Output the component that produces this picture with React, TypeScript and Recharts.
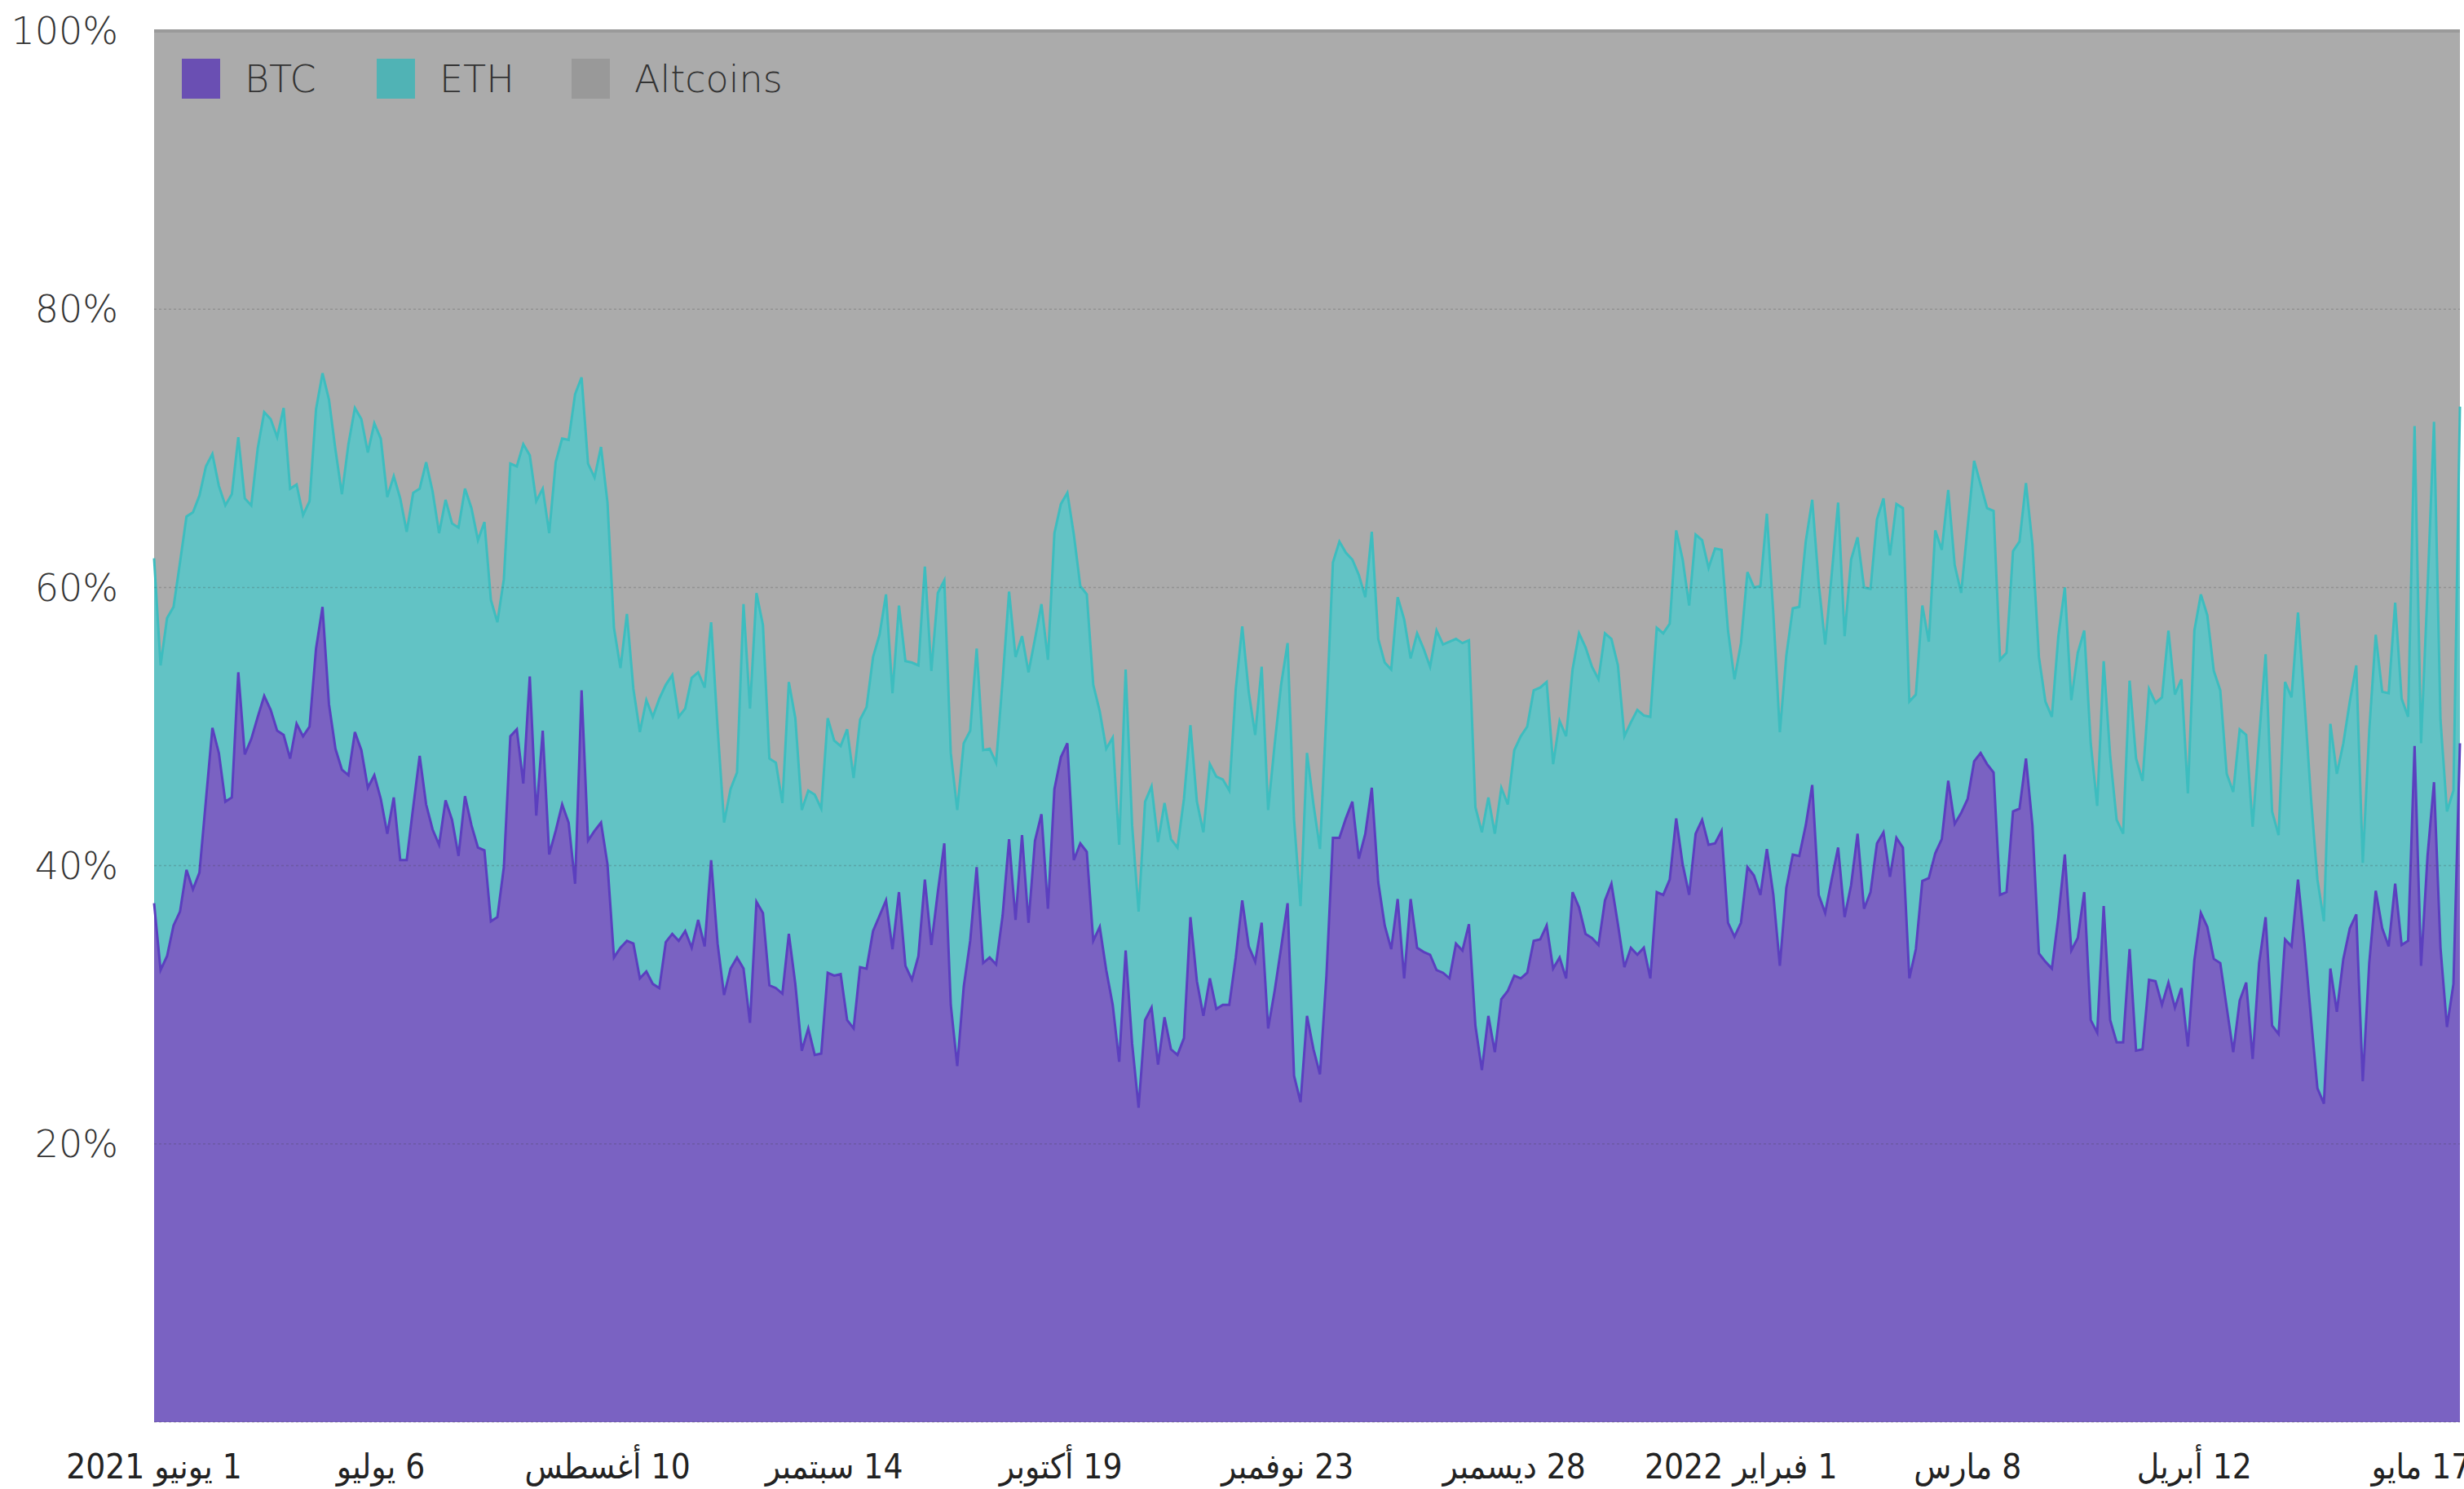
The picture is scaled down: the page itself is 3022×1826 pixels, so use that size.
import React from 'react';
import { AreaChart, Area, XAxis, YAxis, ReferenceLine } from 'recharts';

// Daily share of total crypto market (%), 1 June 2021 -> 23 May 2022
const btcShare = [
  37.3, 32.5, 33.5, 35.7, 36.7, 39.7, 38.3, 39.5, 44.7, 49.9,
  48.1, 44.6, 44.9, 53.9, 48.0, 49.1, 50.7, 52.2, 51.2, 49.7,
  49.4, 47.7, 50.2, 49.3, 50.0, 55.6, 58.6, 51.6, 48.4, 46.9,
  46.5, 49.6, 48.3, 45.6, 46.5, 44.8, 42.3, 44.9, 40.4, 40.4,
  44.2, 47.9, 44.4, 42.6, 41.5, 44.7, 43.3, 40.7, 45.0, 42.9,
  41.3, 41.1, 36.0, 36.3, 39.9, 49.3, 49.8, 45.9, 53.6, 43.6,
  49.7, 40.8, 42.5, 44.4, 43.1, 38.7, 52.6, 41.8, 42.5, 43.1,
  40.1, 33.4, 34.1, 34.6, 34.4, 31.9, 32.4, 31.5, 31.2, 34.5,
  35.1, 34.6, 35.3, 34.1, 36.1, 34.2, 40.4, 34.4, 30.7, 32.6,
  33.4, 32.6, 28.7, 37.4, 36.6, 31.4, 31.2, 30.8, 35.1, 31.5,
  26.7, 28.3, 26.4, 26.5, 32.3, 32.1, 32.2, 28.9, 28.3, 32.7,
  32.6, 35.3, 36.4, 37.5, 34.0, 38.1, 32.8, 31.8, 33.5, 39.0,
  34.3, 38.1, 41.6, 30.0, 25.6, 31.3, 34.6, 39.9, 33.0, 33.4,
  32.9, 36.4, 41.9, 36.1, 42.2, 35.9, 41.8, 43.7, 36.9, 45.5,
  47.8, 48.8, 40.4, 41.6, 41.0, 34.6, 35.6, 32.5, 30.0, 25.9,
  33.9, 27.2, 22.6, 28.9, 29.8, 25.7, 29.1, 26.8, 26.4, 27.6,
  36.3, 31.7, 29.2, 31.9, 29.7, 30.0, 30.0, 33.4, 37.5, 34.2,
  33.1, 35.9, 28.3, 31.0, 34.1, 37.3, 24.9, 23.0, 29.2, 26.8,
  25.0, 32.1, 42.0, 42.0, 43.4, 44.6, 40.5, 42.3, 45.6, 38.8,
  35.7, 34.0, 37.6, 31.9, 37.6, 34.1, 33.8, 33.6, 32.5, 32.3,
  31.9, 34.4, 33.9, 35.8, 28.5, 25.3, 29.2, 26.6, 30.4, 31.0,
  32.1, 31.9, 32.3, 34.6, 34.7, 35.7, 32.6, 33.4, 31.9, 38.1,
  37.0, 35.1, 34.8, 34.3, 37.5, 38.7, 35.8, 32.7, 34.1, 33.6,
  34.1, 31.9, 38.1, 37.9, 39.0, 43.4, 40.1, 37.9, 42.3, 43.3,
  41.5, 41.6, 42.5, 35.9, 34.9, 35.9, 39.9, 39.3, 37.9, 41.2,
  37.9, 32.8, 38.4, 40.8, 40.7, 42.9, 45.8, 37.9, 36.6, 39.0,
  41.3, 36.3, 38.6, 42.3, 36.9, 38.1, 41.6, 42.4, 39.2, 42.0,
  41.3, 31.9, 34.0, 38.9, 39.1, 40.9, 41.9, 46.1, 43.0, 43.8,
  44.8, 47.5, 48.1, 47.3, 46.7, 37.9, 38.1, 43.9, 44.1, 47.7,
  42.9, 33.7, 33.1, 32.6, 36.3, 40.8, 33.9, 34.8, 38.1, 28.9,
  28.0, 37.1, 28.9, 27.3, 27.3, 34.0, 26.7, 26.8, 31.8, 31.7,
  30.0, 31.6, 29.8, 31.2, 27.0, 33.2, 36.6, 35.6, 33.3, 33.0,
  29.8, 26.6, 30.3, 31.6, 26.1, 33.0, 36.3, 28.5, 27.9, 34.7,
  34.2, 39.0, 34.4, 29.1, 24.0, 22.9, 32.6, 29.5, 33.3, 35.5,
  36.5, 24.5, 33.0, 38.2, 35.5, 34.2, 38.7, 34.3, 34.6, 48.6,
  32.8, 40.7, 46.0, 34.1, 28.4, 31.5, 48.8,
];

// BTC + ETH combined share (%), same days
const btcEthShare = [
  62.1, 54.4, 57.8, 58.6, 61.8, 65.1, 65.4, 66.6, 68.7, 69.6,
  67.3, 65.9, 66.7, 70.8, 66.4, 65.9, 70.0, 72.6, 72.1, 70.8,
  72.9, 67.1, 67.4, 65.2, 66.2, 72.8, 75.4, 73.5, 69.9, 66.7,
  70.3, 72.9, 72.1, 69.7, 71.8, 70.7, 66.5, 68.0, 66.4, 64.0,
  66.8, 67.1, 69.0, 66.9, 63.9, 66.3, 64.6, 64.3, 67.1, 65.7,
  63.4, 64.7, 59.1, 57.5, 60.6, 68.9, 68.7, 70.3, 69.5, 66.2,
  67.1, 63.9, 69.0, 70.7, 70.6, 73.9, 75.1, 68.9, 67.9, 70.1,
  66.1, 57.1, 54.2, 58.1, 52.7, 49.6, 51.9, 50.7, 52.0, 53.0,
  53.7, 50.7, 51.3, 53.5, 53.9, 52.8, 57.5, 49.9, 43.1, 45.5,
  46.7, 58.8, 51.3, 59.6, 57.3, 47.7, 47.4, 44.5, 53.2, 50.6,
  44.0, 45.4, 45.1, 44.1, 50.6, 49.0, 48.6, 49.8, 46.3, 50.5,
  51.4, 55.0, 56.6, 59.5, 52.4, 58.7, 54.7, 54.6, 54.4, 61.5,
  54.0, 59.6, 60.5, 48.1, 44.0, 48.8, 49.7, 55.6, 48.3, 48.4,
  47.4, 53.3, 59.7, 55.0, 56.5, 53.9, 56.3, 58.8, 54.8, 63.9,
  66.0, 66.8, 63.8, 60.1, 59.5, 53.0, 51.1, 48.4, 49.2, 41.5,
  54.1, 42.9, 36.7, 44.6, 45.7, 41.7, 44.5, 41.9, 41.3, 44.8,
  50.1, 44.6, 42.4, 47.3, 46.4, 46.2, 45.4, 52.7, 57.2, 52.5,
  49.4, 54.3, 44.0, 48.7, 53.0, 56.0, 43.3, 37.1, 48.1, 44.4,
  41.2, 51.0, 61.8, 63.3, 62.5, 62.0, 60.9, 59.3, 64.0, 56.3,
  54.6, 54.1, 59.3, 57.7, 54.9, 56.7, 55.6, 54.3, 56.9, 55.9,
  56.1, 56.3, 56.0, 56.2, 44.2, 42.4, 44.9, 42.3, 45.6, 44.4,
  48.3, 49.3, 50.0, 52.6, 52.8, 53.2, 47.3, 50.4, 49.3, 54.1,
  56.7, 55.7, 54.3, 53.4, 56.7, 56.3, 54.4, 49.3, 50.3, 51.2,
  50.8, 50.7, 57.1, 56.7, 57.4, 64.1, 62.0, 58.7, 63.8, 63.4,
  61.4, 62.8, 62.7, 56.9, 53.4, 56.0, 61.1, 60.0, 60.1, 65.3,
  58.1, 49.6, 55.1, 58.5, 58.6, 63.3, 66.3, 60.3, 55.9, 60.9,
  66.1, 56.5, 62.0, 63.6, 60.0, 59.9, 64.9, 66.4, 62.3, 66.0,
  65.7, 51.8, 52.3, 58.7, 56.1, 64.1, 62.7, 67.0, 61.6, 59.6,
  64.4, 69.1, 67.4, 65.7, 65.5, 54.8, 55.3, 62.6, 63.3, 67.5,
  63.1, 55.0, 51.8, 50.7, 56.5, 60.0, 51.9, 55.3, 56.9, 48.8,
  44.3, 54.7, 47.9, 43.3, 42.3, 53.3, 47.7, 46.1, 52.7, 51.7,
  52.1, 56.9, 52.3, 53.4, 45.2, 56.9, 59.5, 58.0, 54.0, 52.6,
  46.6, 45.3, 49.8, 49.4, 42.8, 49.2, 55.2, 43.9, 42.2, 53.2,
  52.1, 58.2, 51.8, 44.9, 39.0, 36.0, 50.2, 46.6, 48.8, 51.8,
  54.4, 40.2, 49.7, 56.6, 52.5, 52.4, 58.9, 52.0, 50.7, 71.6,
  48.8, 59.9, 71.9, 50.5, 43.9, 45.4, 73.0,
];

const tickDays = [0, 35, 70, 105, 140, 175, 210, 245, 280, 315, 350];
const tickLabels = [
  '1 يونيو 2021', '6 يوليو', '10 أغسطس', '14 سبتمبر', '19 أكتوبر', '23 نوفمبر',
  '28 ديسمبر', '1 فبراير 2022', '8 مارس', '12 أبريل', '17 مايو',
];
const yTicks = [20, 40, 60, 80, 100];
const gridValues = [0, 20, 40, 60, 80];
const seriesNames = ['BTC', 'ETH', 'Altcoins'];
const seriesSwatch = ['#6a4fb3', '#50b3b5', '#999999'];

const data = btcShare.map((b, i) => ({
  day: i,
  btc: b,
  top: btcEthShare[i],
  all: 100,
}));

const FONT = '"DejaVu Sans", "Noto Sans", sans-serif';
const XFONT = '"DejaVu Sans Condensed", "DejaVu Sans", "Noto Sans", sans-serif';

const YTick = (props: any) => {
  const { x, y, payload } = props;
  return (
    <text x={x} y={y} dy="0.35em" textAnchor="end" fontSize={46} fill="#333" fontFamily={FONT} fontWeight={300}>
      {payload.value}%
    </text>
  );
};

const XTick = (props: any) => {
  const { x, y, payload } = props;
  const idx = tickDays.indexOf(payload.value);
  return (
    <text
      x={x}
      y={y + 69}
      textAnchor="middle"
      direction="rtl"
      style={{ direction: 'rtl', unicodeBidi: 'embed', fontStretch: 'condensed' } as any}
      fontSize={42}
      fill="#222"
      fontFamily={XFONT}
    >
      {tickLabels[idx]}
    </text>
  );
};

const legendLeft = [223, 462, 701];

export default function App() {
  return (
    <div style={{ position: 'absolute', left: 0, top: 0, width: 3022, height: 1826, overflow: 'hidden', background: '#fff' }}>
      <AreaChart width={3022} height={1826} data={data} margin={{ top: 38, right: 5, bottom: 0, left: 0 }}>
        <XAxis
          dataKey="day"
          type="number"
          domain={[0, btcShare.length - 1]}
          ticks={tickDays}
          interval={0}
          tick={<XTick />}
          tickLine={false}
          axisLine={false}
          tickSize={0}
          tickMargin={0}
          height={82}
        />
        <YAxis
          domain={[0, 100]}
          ticks={yTicks}
          interval={0}
          tick={<YTick />}
          tickLine={false}
          axisLine={false}
          tickSize={0}
          tickMargin={44}
          width={189}
        />
        <Area type="linear" dataKey="all" fill="#ababab" fillOpacity={1} stroke="#9a9a9a" strokeWidth={4} dot={false} activeDot={false} isAnimationActive={false} />
        <Area type="linear" dataKey="top" fill="#62c3c5" fillOpacity={1} stroke="#3dbdbf" strokeWidth={3} dot={false} activeDot={false} isAnimationActive={false} />
        <Area type="linear" dataKey="btc" fill="#7a62c2" fillOpacity={1} stroke="#5b3fbf" strokeWidth={3} dot={false} activeDot={false} isAnimationActive={false} />
        {gridValues.map((v) => (
          <ReferenceLine key={v} y={v} stroke="rgba(60,60,60,0.22)" strokeWidth={1.5} strokeDasharray="3 3" />
        ))}
      </AreaChart>
      {seriesNames.map((name, i) => (
        <div
          key={name}
          style={{ position: 'absolute', left: legendLeft[i], top: 72, height: 49, display: 'flex', alignItems: 'center', fontFamily: FONT, fontWeight: 300, fontSize: 46, color: '#333' }}
        >
          <div style={{ width: 47, height: 49, background: seriesSwatch[i], marginRight: 30 }} />
          <span>{name}</span>
        </div>
      ))}
    </div>
  );
}
